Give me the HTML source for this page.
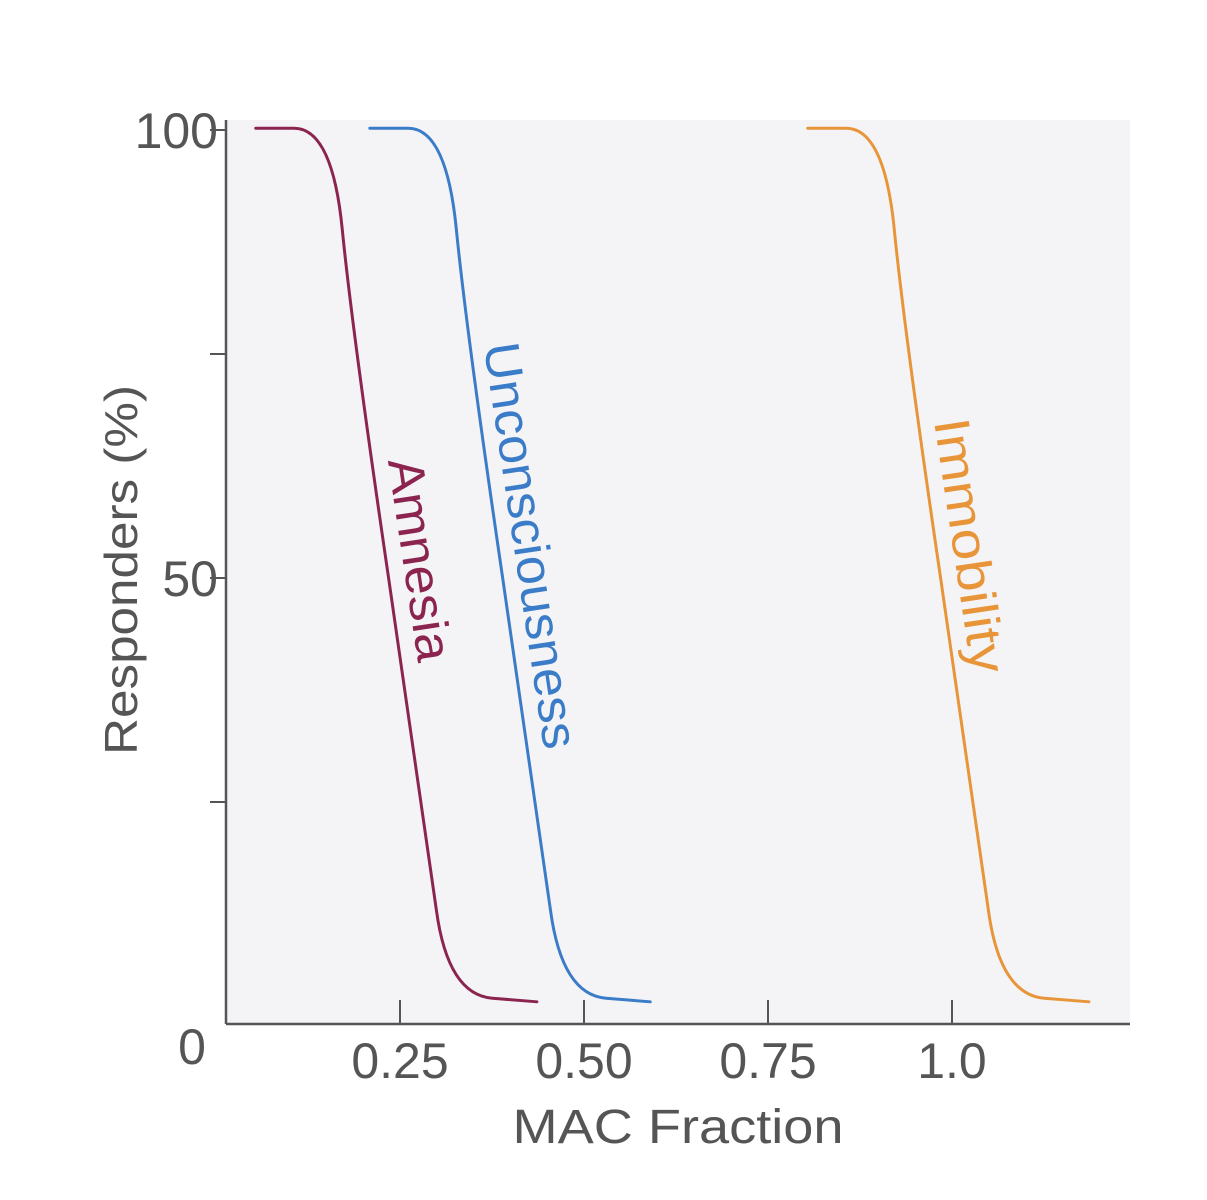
<!DOCTYPE html>
<html><head><meta charset="utf-8"><style>
html,body{margin:0;padding:0;background:#fff;}
svg{display:block;font-family:"Liberation Sans",sans-serif;}
</style></head><body>
<svg id="chart" width="1207" height="1200" viewBox="0 0 1207 1200">
<rect x="226" y="120" width="904" height="904" fill="#f4f4f7"/>
<g id="marks"></g>
<line x1="226" y1="120" x2="226" y2="1024" stroke="#555" stroke-width="2.5"/>
<line x1="226" y1="1024" x2="1130" y2="1024" stroke="#555" stroke-width="2.5"/>
<g id="ticks"></g>
<text x="0" y="0" transform="translate(137,570) rotate(-90)" text-anchor="middle" font-size="46" textLength="370" lengthAdjust="spacingAndGlyphs" fill="#555">Responders (%)</text>
<text x="678" y="1143" text-anchor="middle" font-size="48" textLength="331" lengthAdjust="spacingAndGlyphs" fill="#555">MAC Fraction</text>
<text transform="translate(403,562) rotate(81.5)" text-anchor="middle" font-size="50" textLength="205" lengthAdjust="spacingAndGlyphs" fill="#8b2550">Amnesia</text>
<text transform="translate(514,548) rotate(81.5)" text-anchor="middle" font-size="50" textLength="410" lengthAdjust="spacingAndGlyphs" fill="#3b7cc8">Unconsciousness</text>
<text transform="translate(953,548) rotate(81.5)" text-anchor="middle" font-size="50" textLength="257" lengthAdjust="spacingAndGlyphs" fill="#e8953a">Immobility</text>
</svg>
<script>
const amnesiaX = [0.054,0.158,0.185,0.284,0.315,0.436];
const amnesiaY = [100.2,100.2,77.7,22.3,3.5,2.7];
const unconsciousnessX = [0.209,0.313,0.340,0.439,0.470,0.590];
const unconsciousnessY = [100.2,100.2,77.7,22.3,3.5,2.7];
const immobilityX = [0.804,0.908,0.935,1.034,1.065,1.186];
const immobilityY = [100.2,100.2,77.7,22.3,3.5,2.7];
const xTicks = [0.25,0.50,0.75,1.0];
const xTickLabels = ["0.25","0.50","0.75","1.0"];
const yTicks = [25,50,75,100];
const yTickLabels = ["","50","","100"];

function sx(v){return 216 + v*736;}
function sy(v){return 1026 - v*8.96;}
const NS="http://www.w3.org/2000/svg";
function pathFor(xs,ys){
  const p=xs.map((x,i)=>[sx(x),sy(ys[i])]);
  const mid=(a,b)=>[(a[0]+b[0])/2,(a[1]+b[1])/2];
  let d="M"+p[0][0]+","+p[0][1];
  for(let i=1;i<p.length-1;i++){
    const m1=mid(p[i-1],p[i]),m2=mid(p[i],p[i+1]);
    d+=" L"+m1[0]+","+m1[1]+" Q"+p[i][0]+","+p[i][1]+" "+m2[0]+","+m2[1];
  }
  const l=p[p.length-1];
  d+=" L"+l[0]+","+l[1];
  return d;
}
const marks=document.getElementById('marks');
[[amnesiaX,amnesiaY,"#8b2550","amnesia-curve"],[unconsciousnessX,unconsciousnessY,"#3b7cc8","unconsciousness-curve"],[immobilityX,immobilityY,"#e8953a","immobility-curve"]].forEach(s=>{
  const el=document.createElementNS(NS,"path");
  el.setAttribute("d",pathFor(s[0],s[1]));
  el.setAttribute("fill","none");el.setAttribute("stroke",s[2]);el.setAttribute("stroke-width","3");
  el.setAttribute("stroke-linecap","round");
  
  
  marks.appendChild(el);
});
const ticks=document.getElementById('ticks');
xTicks.forEach((v,i)=>{
  const l=document.createElementNS(NS,"line");
  l.setAttribute("x1",sx(v));l.setAttribute("x2",sx(v));l.setAttribute("y1",1000);l.setAttribute("y2",1024);
  l.setAttribute("stroke","#555");l.setAttribute("stroke-width","2");
  
  
  ticks.appendChild(l);
  const t=document.createElementNS(NS,"text");
  t.setAttribute("x",sx(v));t.setAttribute("y",1078);t.setAttribute("text-anchor","middle");
  t.setAttribute("font-size","50");t.setAttribute("fill","#555");t.textContent=xTickLabels[i];
  
  
  ticks.appendChild(t);
});
yTicks.forEach((v,i)=>{
  const l=document.createElementNS(NS,"line");
  l.setAttribute("x1",210);l.setAttribute("x2",226);l.setAttribute("y1",sy(v));l.setAttribute("y2",sy(v));
  l.setAttribute("stroke","#555");l.setAttribute("stroke-width","2");
  
  
  ticks.appendChild(l);
  if(yTickLabels[i]){
    const t=document.createElementNS(NS,"text");
    t.setAttribute("x",218);t.setAttribute("y",sy(v)+18);t.setAttribute("text-anchor","end");
    t.setAttribute("font-size","50");t.setAttribute("fill","#555");t.textContent=yTickLabels[i];
    
    
    ticks.appendChild(t);
  }
});
const z=document.createElementNS(NS,"text");
z.setAttribute("x",192);z.setAttribute("y",1064);z.setAttribute("text-anchor","middle");
z.setAttribute("font-size","50");z.setAttribute("fill","#555");z.textContent="0";


ticks.appendChild(z);
</script>
</body></html>
